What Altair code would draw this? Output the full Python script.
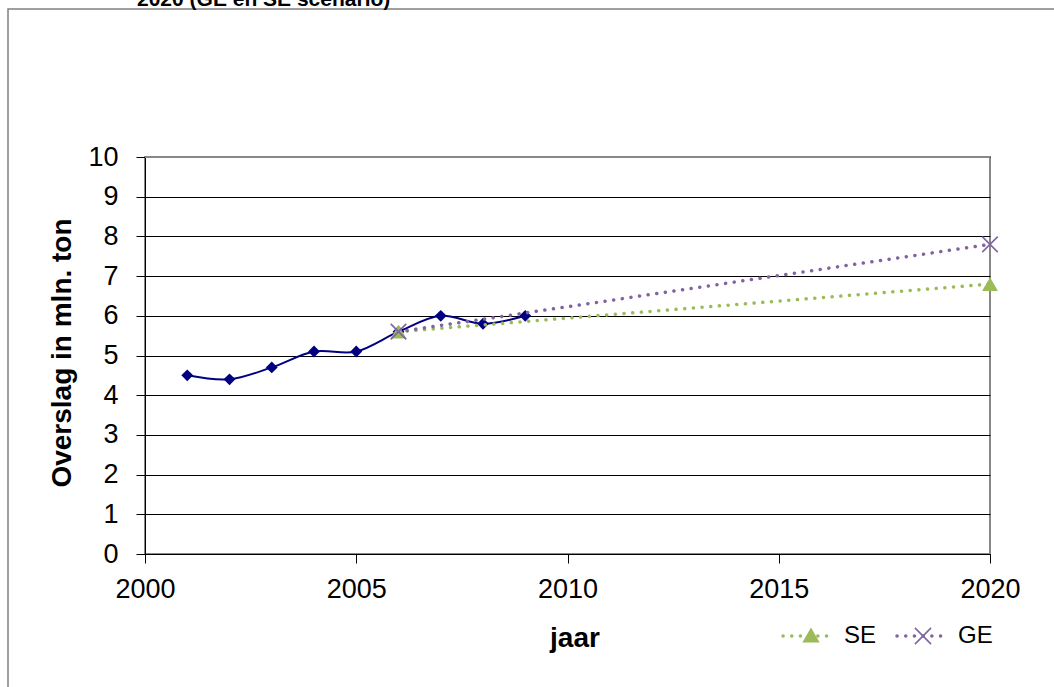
import altair as alt
import pandas as pd

# ---- data ----
years = [2001, 2002, 2003, 2004, 2005, 2006, 2007, 2008, 2009]
overslag = [4.5, 4.4, 4.7, 5.1, 5.1, 5.6, 6.0, 5.8, 6.0]
scen_years = [2006, 2020]
se_values = [5.6, 6.8]
ge_values = [5.6, 7.8]
x_ticks = [2000, 2005, 2010, 2015, 2020]
y_ticks = list(range(0, 11))
title_text = "2020 (GE en SE scenario)"
x_title = "jaar"
y_title = "Overslag in mln. ton"
legend_labels = ["SE", "GE"]

NAVY = "#000080"
GREEN = "#9BBB59"
PURPLE = "#8064A2"
FONT = "Liberation Sans"

# plot area placement (pixels)
L, T, R, B = 145, 157, 990, 554
W, H = R - L, B - T

hist = pd.DataFrame({"jaar": years, "v": overslag})
se_df = pd.DataFrame({"jaar": scen_years, "v": se_values})
ge_df = pd.DataFrame({"jaar": scen_years, "v": ge_values})

xs = alt.Scale(domain=[2000, 2020], nice=False, zero=False)
ys = alt.Scale(domain=[0, 10], nice=False)

x_axis = alt.Axis(
    values=x_ticks, format="d", title=None, grid=False,
    labelFontSize=27, labelFont=FONT, labelColor="black", labelPadding=13,
    labelOverlap=False, labelFlush=False, tickSize=9, tickColor="black",
    domainColor="black")
y_axis = alt.Axis(
    values=y_ticks, title=None, grid=True, gridColor="black",
    gridWidth=1, labelFontSize=27, labelFont=FONT, labelColor="black",
    labelPadding=18, labelOverlap=False, labelFlush=False, tickSize=9,
    tickColor="black", domainColor="black")
x_enc = alt.X("jaar:Q", scale=xs, axis=x_axis)
y_enc = alt.Y("v:Q", scale=ys, axis=y_axis)

DOT = [0.1, 8.6]
XSHAPE = "M-1,-1L1,1M-1,1L1,-1"

hist_line = alt.Chart(hist).mark_line(
    color=NAVY, strokeWidth=2, interpolate="cardinal").encode(x=x_enc, y=y_enc)
hist_pts = alt.Chart(hist).mark_point(
    shape="diamond", filled=True, color=NAVY, size=140, opacity=1).encode(x=x_enc, y=y_enc)

se_line = alt.Chart(se_df).mark_line(
    color=GREEN, strokeWidth=3.5, strokeDash=DOT, strokeCap="round").encode(x=x_enc, y=y_enc)
se_pts = alt.Chart(se_df).mark_point(
    shape="triangle-up", filled=True, color=GREEN, size=250, opacity=1).encode(x=x_enc, y=y_enc)
ge_line = alt.Chart(ge_df).mark_line(
    color=PURPLE, strokeWidth=3.5, strokeDash=DOT, strokeCap="round").encode(x=x_enc, y=y_enc)
ge_pts = alt.Chart(ge_df).mark_point(
    shape=XSHAPE, filled=False, color=PURPLE, size=240, strokeWidth=1.6, opacity=1).encode(x=x_enc, y=y_enc)

one = pd.DataFrame({"k": [0]})

# top border of the plot area (gray, over the top gridline)
top_line = alt.Chart(one).mark_rule(color="#888888", strokeWidth=2).encode(
    x=alt.value(0), x2=alt.value(W), y=alt.value(0))

# outer chart border
border = alt.Chart(one).mark_rect(
    fill=None, stroke="#808080", strokeWidth=1.5).encode(
    x=alt.value(8 - L), x2=alt.value(W + 80), y=alt.value(9 - T), y2=alt.value(H + 160))

# partially visible title at top
title = alt.Chart(pd.DataFrame({"t": [title_text]})).mark_text(
    align="left", baseline="alphabetic", font=FONT, fontSize=21, fontWeight="bold",
    color="black").encode(x=alt.value(137 - L), y=alt.value(6 - T), text="t:N")

# axis titles
xt = alt.Chart(pd.DataFrame({"t": [x_title]})).mark_text(
    align="center", baseline="alphabetic", font=FONT, fontSize=28, fontWeight="bold",
    color="black").encode(x=alt.value(575 - L), y=alt.value(647 - T), text="t:N")
yt = alt.Chart(pd.DataFrame({"t": [y_title]})).mark_text(
    align="center", baseline="alphabetic", font=FONT, fontSize=28, fontWeight="bold",
    angle=270, color="black").encode(x=alt.value(71 - L), y=alt.value(353 - T), text="t:N")

# legend
leg_y = 636 - T
def leg_item(x0, color, label, marker):
    line = alt.Chart(one).mark_rule(
        color=color, strokeWidth=3.5, strokeDash=DOT, strokeCap="round").encode(
        x=alt.value(x0), x2=alt.value(x0 + 49), y=alt.value(leg_y))
    if marker == "tri":
        m = alt.Chart(one).mark_point(shape="triangle-up", filled=True, color=color,
                                      size=300, opacity=1).encode(
            x=alt.value(x0 + 28), y=alt.value(leg_y - 1))
    else:
        m = alt.Chart(one).mark_point(shape=XSHAPE, filled=False, color=color,
                                      size=260, strokeWidth=1.6, opacity=1).encode(
            x=alt.value(x0 + 26), y=alt.value(leg_y))
    t = alt.Chart(pd.DataFrame({"t": [label]})).mark_text(
        align="left", baseline="middle", font=FONT, fontSize=24, color="black").encode(
        x=alt.value(x0 + 61), y=alt.value(leg_y), text="t:N")
    return line + m + t

leg = leg_item(783 - L, GREEN, legend_labels[0], "tri") + \
      leg_item(897 - L, PURPLE, legend_labels[1], "x")

chart = alt.layer(
    border, title, xt, yt, hist_line, top_line, hist_pts, se_line, ge_line, se_pts, ge_pts, leg
).properties(
    width=W, height=H,
    autosize=alt.AutoSizeParams(type="none"),
    padding={"left": L, "top": T, "right": 1054 - R, "bottom": 687 - B},
    background="white",
).configure_view(stroke="#888888", strokeWidth=2)

chart.save("out.html", embed_options={"renderer": "svg", "actions": False})
